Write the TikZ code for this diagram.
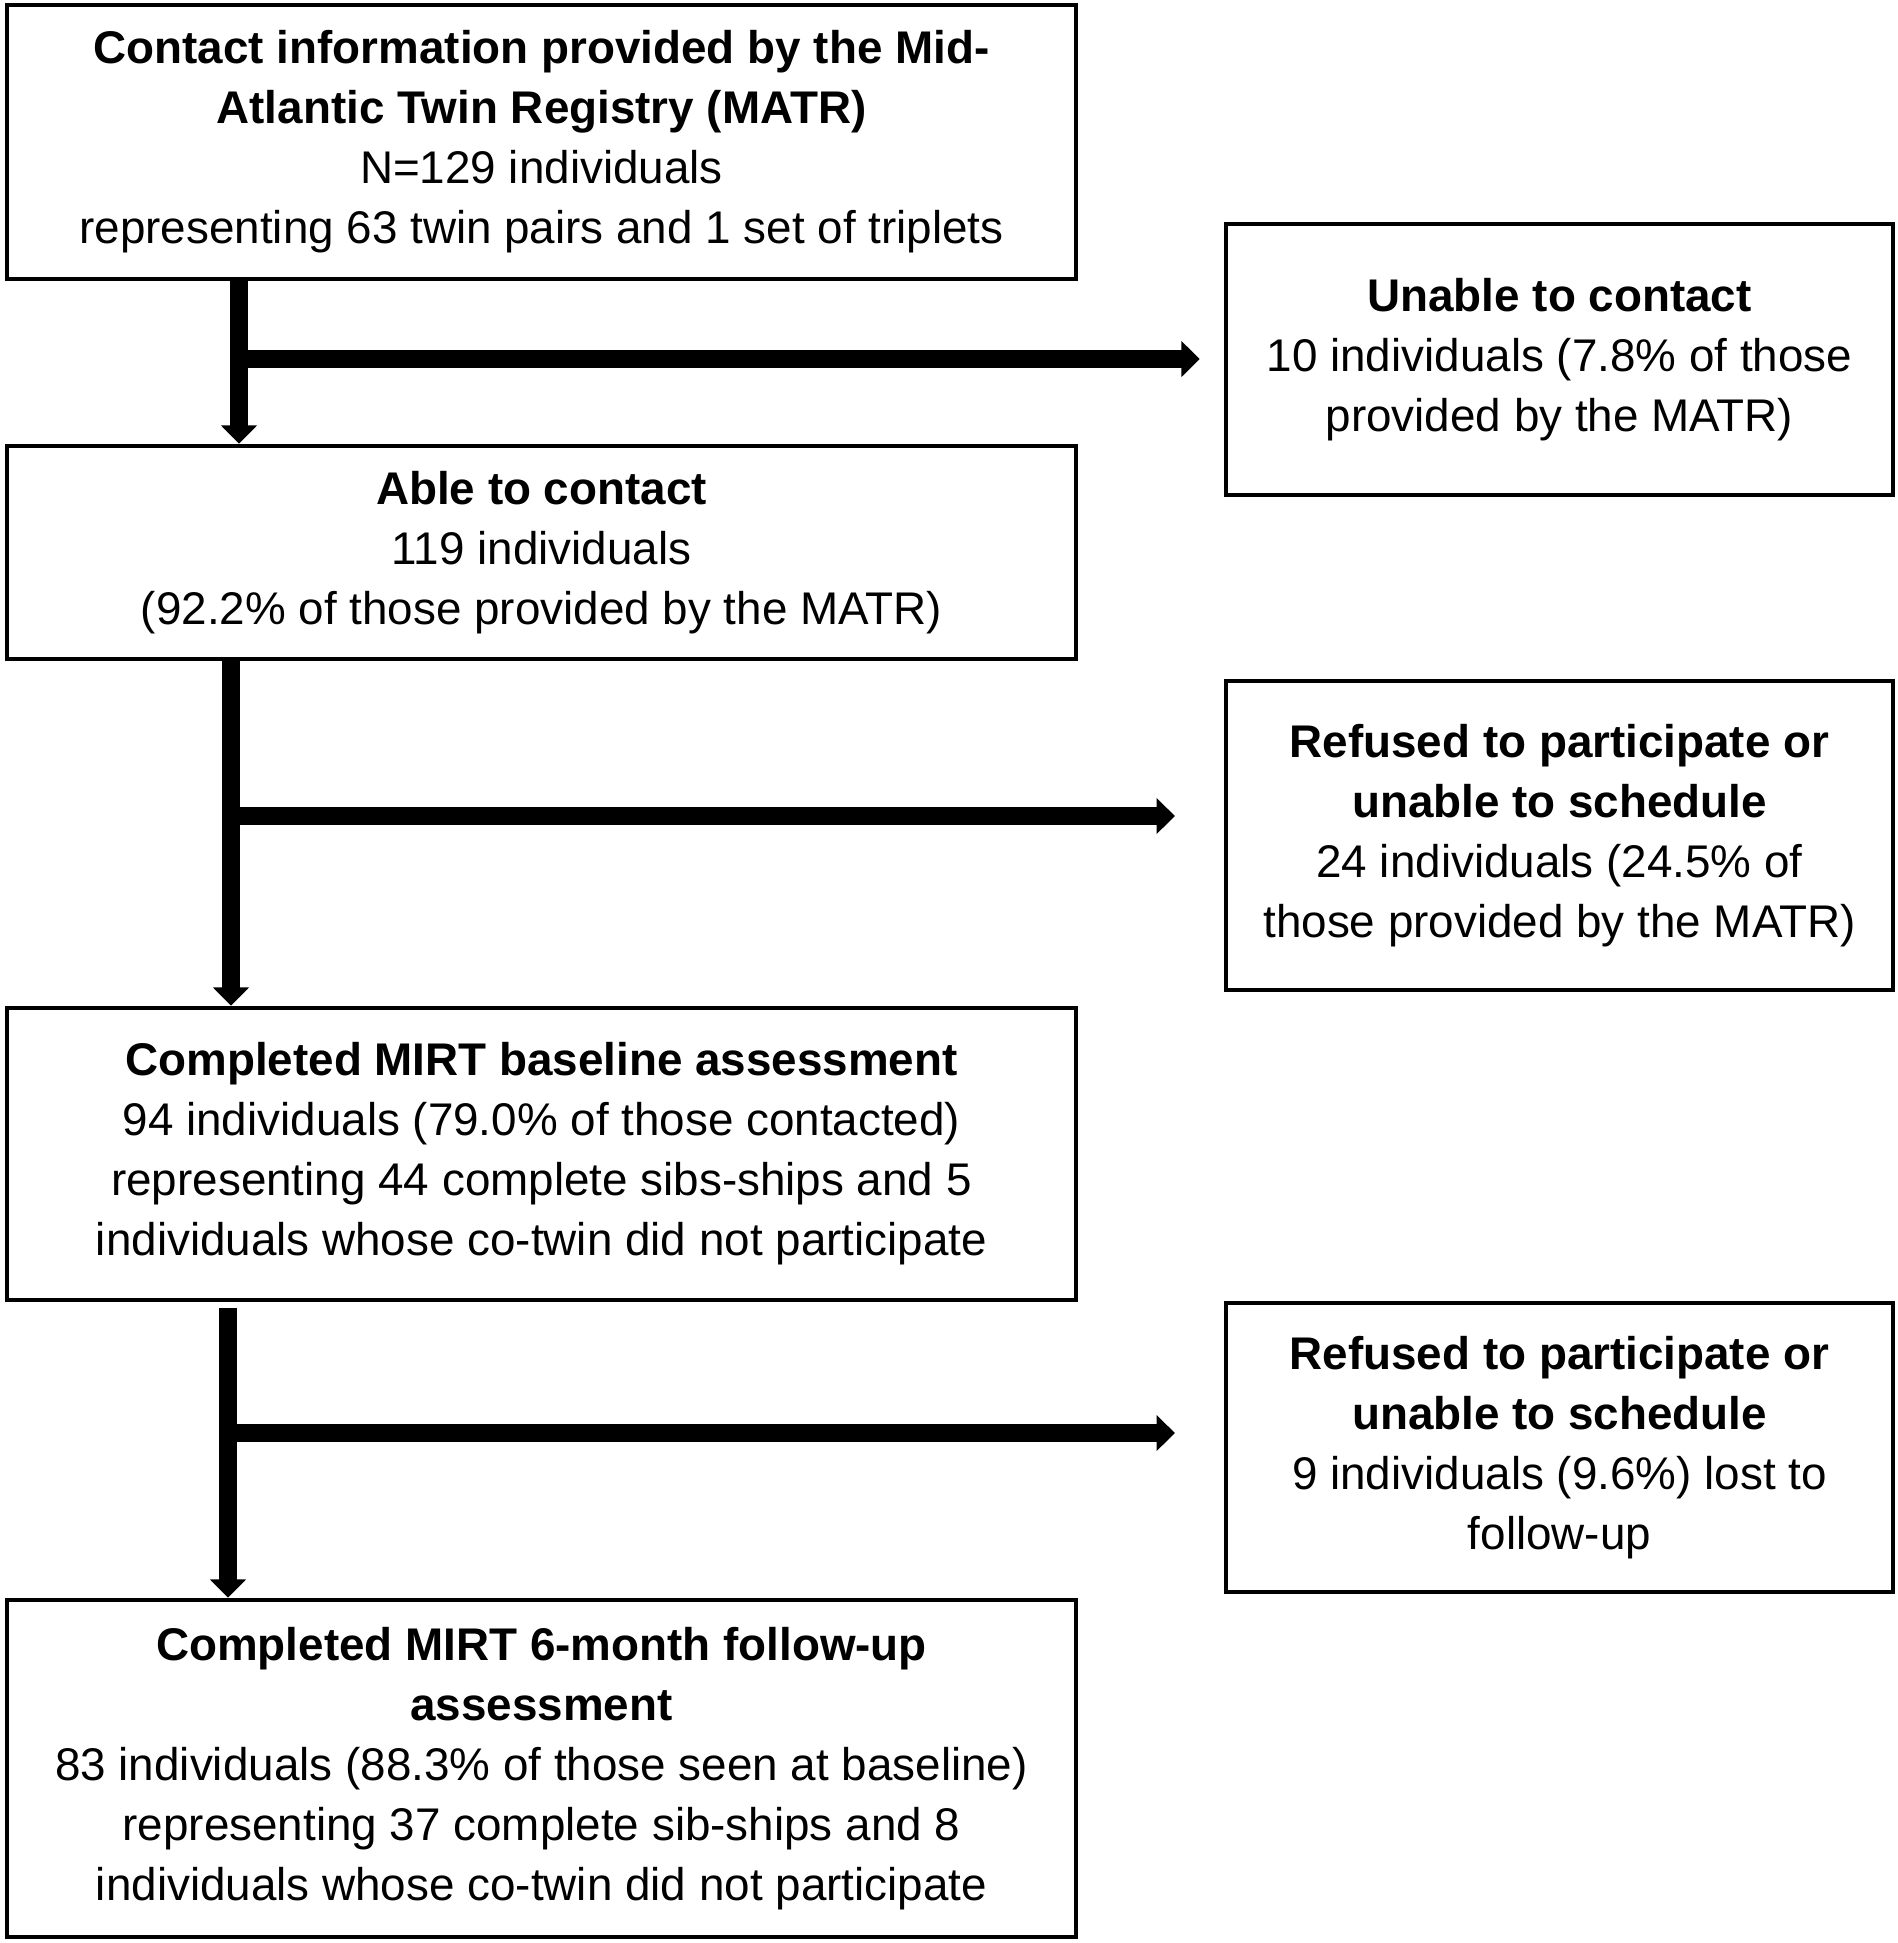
\documentclass[tikz,border=0pt]{standalone}
\usepackage{fontspec}
\setmainfont{Liberation Sans}
\usetikzlibrary{arrows.meta}
\begin{document}
\begin{tikzpicture}[x=0.25pt,y=-0.25pt,
  box/.style={draw=black,line width=1.15pt,fill=white,inner sep=0pt,align=center,
    font=\fontsize{11.45}{15}\selectfont,minimum width=#1},
  lbox/.style={box=267.25pt},
  rbox/.style={box=166.75pt},
  flow/.style={line width=4.4pt,-{Triangle[length=4.6pt,width=8.8pt]}}]
\useasboundingbox (0,0) rectangle (1898,1943);
\node[lbox,minimum height=68.5pt] (b1) at (541.5,142)
  {\bfseries Contact information provided by the Mid-\\\bfseries Atlantic Twin Registry (MATR)\\N=129 individuals\\representing 63 twin pairs and 1 set of triplets};
\node[rbox,minimum height=67.75pt] (b2) at (1559.5,359.5)
  {\bfseries Unable to contact\\10 individuals (7.8\% of those\\provided by the MATR)};
\node[lbox,minimum height=53.25pt] (b3) at (541.5,552.5)
  {\bfseries Able to contact\\119 individuals\\(92.2\% of those provided by the MATR)};
\node[rbox,minimum height=77.25pt] (b4) at (1559.5,835.5)
  {\bfseries Refused to participate or\\\bfseries unable to schedule\\24 individuals (24.5\% of\\those provided by the MATR)};
\node[lbox,minimum height=73pt] (b5) at (541.5,1154)
  {\bfseries Completed MIRT baseline assessment\\94 individuals (79.0\% of those contacted)\\representing 44 complete sibs-ships and 5\\individuals whose co-twin did not participate};
\node[rbox,minimum height=72.25pt] (b6) at (1559.5,1447.5)
  {\bfseries Refused to participate or\\\bfseries unable to schedule\\9 individuals (9.6\%) lost to\\follow-up};
\node[lbox,minimum height=84.25pt] (b7) at (541.5,1768.5)
  {\bfseries Completed MIRT 6-month follow-up\\\bfseries assessment\\83 individuals (88.3\% of those seen at baseline)\\representing 37 complete sib-ships and 8\\individuals whose co-twin did not participate};
% junction coordinates
\coordinate (j1) at (239,359);
\coordinate (j2) at (231,816);
\coordinate (j3) at (228,1433);
% connectors
\draw[flow] (b1.south -| j1) -- (b3.north -| j1);
\draw[flow,shorten >=6pt] (j1) -- (b2.west |- j1);
\draw[flow] (b3.south -| j2) -- (b5.north -| j2);
\draw[flow,shorten >=12.2pt] (j2) -- (b4.west |- j2);
\draw[flow,shorten <=1.3pt] (b5.south -| j3) -- (b7.north -| j3);
\draw[flow,shorten >=12.2pt] (j3) -- (b6.west |- j3);
\end{tikzpicture}
\end{document}
